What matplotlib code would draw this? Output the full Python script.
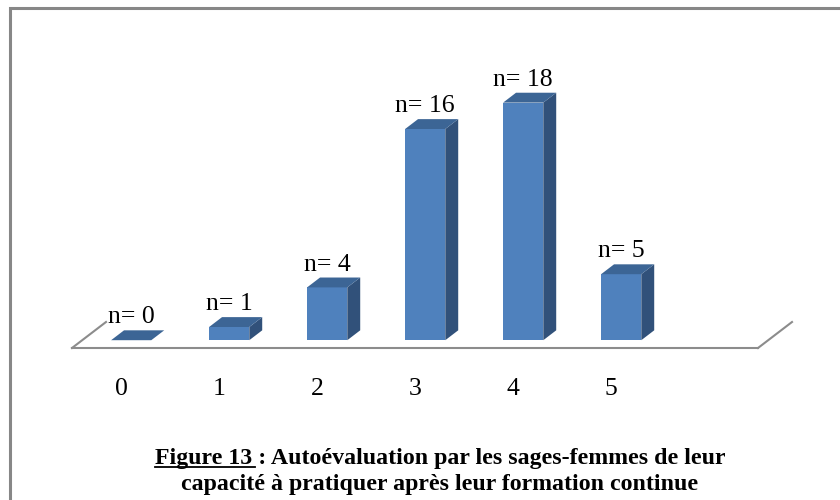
import matplotlib
matplotlib.use('Agg')
import matplotlib.pyplot as plt
from matplotlib.patches import Polygon, Rectangle
from matplotlib.lines import Line2D

# Donnees du graphique
notes = ['0', '1', '2', '3', '4', '5']
effectifs = [0, 1, 4, 16, 18, 5]
etiquettes = ['n= 0', 'n= 1', 'n= 4', 'n= 16', 'n= 18', 'n= 5']
titre_num = 'Figure 13 '
titre_l1 = ': Autoévaluation par les sages-femmes de leur'
titre_l2 = 'capacité à pratiquer après leur formation continue'

# Couleurs (style Excel 3D)
c_face = '#4F81BD'
c_dessus = '#3C6595'
c_cote = '#31517A'
c_sol = '#8C8C8C'

W, H = 840, 500
fig = plt.figure(figsize=(W / 100, H / 100), dpi=100)
fig.patch.set_facecolor('white')

# Axe: sol avant de x=72 a x=758 px, y=348 px, 7 emplacements
ax = fig.add_axes([72 / W, (H - 348) / H, 686 / W, 264 / H])
ax.set_xlim(-0.5, 6.5)
ax.set_ylim(0, 20)
ax.axis('off')

# profondeur du sol (34 px, 26 px) convertie en unites de donnees
p0 = ax.transData.transform((0, 0))
p1 = ax.transData.transform((1, 1))
Dx = 34 / (p1[0] - p0[0])
Dy = 26 / (p1[1] - p0[1])

# Sol: bord avant et deux cotes
x0, x1 = -0.5, 6.5
for xs, ys in [([x0, x1], [0, 0]), ([x0, x0 + Dx], [0, Dy]), ([x1, x1 + Dx], [0, Dy])]:
    ax.add_line(Line2D(xs, ys, color=c_sol, lw=1.5, clip_on=False))

# Barres 3D
larg = 0.41
f0, f1 = 0.30, 0.68
for i, v in enumerate(effectifs):
    xa = i - larg / 2 + f0 * Dx
    xb = i + larg / 2 + f0 * Dx
    yb = f0 * Dy
    dx = (f1 - f0) * Dx
    dy = (f1 - f0) * Dy
    if v > 0:
        cote = [(xb, yb), (xb + dx, yb + dy), (xb + dx, yb + dy + v), (xb, yb + v)]
        ax.add_patch(Polygon(cote, closed=True, facecolor=c_cote, edgecolor='none', clip_on=False))
        face = [(xa, yb), (xb, yb), (xb, yb + v), (xa, yb + v)]
        ax.add_patch(Polygon(face, closed=True, facecolor=c_face, edgecolor='none', clip_on=False))
    dessus = [(xa, yb + v), (xb, yb + v), (xb + dx, yb + dy + v), (xa + dx, yb + dy + v)]
    ax.add_patch(Polygon(dessus, closed=True, facecolor=c_dessus, edgecolor='none', clip_on=False))

    # etiquette n= au-dessus de la barre
    ax.annotate(etiquettes[i], (i + f0 * Dx, v + f1 * Dy), xytext=(0, 7),
                textcoords='offset pixels', ha='center', va='baseline',
                fontsize=18.5, family='Liberation Serif', color='black')

    # etiquette de l'axe x
    ax.annotate(notes[i], (i, 0), xytext=(0, -41), textcoords='offset pixels',
                ha='center', va='center', fontsize=18.5, family='Liberation Serif')

# Cadre
fig.add_artist(Rectangle((9.5 / W, -0.1), 1.2, 1.1 - 8.5 / H, transform=fig.transFigure,
                         facecolor='none', edgecolor='#878787', lw=2.2))

# Legende de la figure
cx = 440 / W
taille = 17.2
txt_kw = dict(fontsize=taille, family='Liberation Serif', weight='bold',
              ha='center', va='baseline', transform=fig.transFigure)
t1 = fig.text(cx, (H - 464) / H, titre_num + titre_l1, **txt_kw)
fig.text(cx, (H - 490) / H, titre_l2, **txt_kw)

rend = fig.canvas.get_renderer()
tmp = fig.text(0, 0, titre_num, fontsize=taille, family='Liberation Serif', weight='bold')
w_num = tmp.get_window_extent(rend).width
tmp.remove()
bb = t1.get_window_extent(rend)
yl = (H - 467) / H
fig.add_artist(Line2D([bb.x0 / W, (bb.x0 + w_num - 3) / W], [yl, yl],
                      transform=fig.transFigure, color='black', lw=1.3))

fig.savefig('out.png', dpi=100)
